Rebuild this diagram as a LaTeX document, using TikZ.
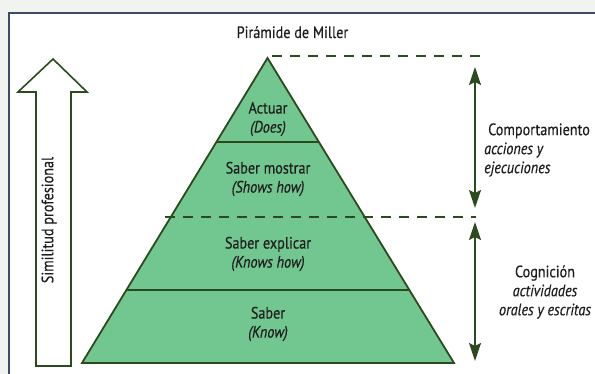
\documentclass[tikz,border=0pt]{standalone}
\usepackage{fontspec}
\setmainfont{PT Sans}[FakeStretch=0.86, FakeBold=0.4]
\usetikzlibrary{arrows.meta}
\definecolor{bgout}{HTML}{F1F3F0}
\definecolor{frame}{HTML}{3C4B66}
\definecolor{pyrfill}{HTML}{72C68F}
\definecolor{dkgreen}{HTML}{2C4A1E}
\definecolor{txt}{HTML}{1E1E1E}
\tikzset{
  lbl/.style={font=\fontsize{16.5}{19}\selectfont, text=txt, align=center, inner sep=0pt},
  pyrline/.style={draw=dkgreen, line width=1.8pt},
  dashline/.style={draw=dkgreen, line width=2pt, dash pattern=on 10pt off 8pt},
  dimarrow/.style={draw=dkgreen, line width=2pt, {Stealth[length=18pt,width=12pt,inset=3pt]}-{Stealth[length=18pt,width=12pt,inset=3pt]}},
}
\begin{document}
\begin{tikzpicture}[x=1pt,y=-1pt]
\useasboundingbox (0,0) rectangle (595,374);
\fill[bgout] (0,0) rectangle (595,374);
\fill[white] (9,13) rectangle (600,380);
\draw[frame, line width=2.2pt] (9,380) -- (9,13) -- (600,13);
% pyramid
\coordinate (apex) at (267.5,58);
\coordinate (bl) at (82,363);
\coordinate (br) at (454,363);
\fill[pyrfill] (apex) -- (bl) -- (br) -- cycle;
\coordinate (l1) at (216.3,142); \coordinate (r1) at (318.7,142);
\coordinate (l3) at (126,290); \coordinate (r3) at (409,290);
\draw[pyrline] (l1) -- (r1);
\draw[pyrline] (l3) -- (r3);
\draw[pyrline, line join=miter] (apex) -- (bl) -- (br) -- cycle;
% dashed lines
\coordinate (d1a) at (272,56); \coordinate (d1b) at (481,56);
\coordinate (d2a) at (165,217); \coordinate (d2b) at (476,217);
\draw[dashline] (d1a) -- (d1b);
\draw[dashline] (d2a) -- (d2b);
% dimension arrows
\coordinate (a1t) at (475,67); \coordinate (a1b) at (475,208);
\coordinate (a2t) at (475,222); \coordinate (a2b) at (475,361);
\draw[dimarrow] (a1b) -- (a1t);
\draw[dimarrow] (a2b) -- (a2t);
% hollow arrow
\draw[dkgreen, line width=1.6pt, fill=white, line join=miter]
  (36,366) -- (36,92) -- (18,92) -- (53,59) -- (87,92) -- (71,92) -- (71,366) -- cycle;
\node[lbl, rotate=90] (sim) at (49,220) {Similitud profesional};
% labels
\node[lbl, anchor=base] (title) at (292.5,38) {Pirámide de Miller};
\node[lbl] (actuar) at (268,119) {Actuar\\\textit{(Does)}};
\node[lbl] (mostrar) at (268,179) {Saber mostrar\\\textit{(Shows how)}};
\node[lbl] (explicar) at (268,254) {Saber explicar\\\textit{(Knows how)}};
\node[lbl] (saber) at (268,324) {Saber\\\textit{(Know)}};
\node[lbl, align=left, anchor=west] (comp) at (484,150) {\hspace*{4pt}Comportamiento\\\textit{acciones y}\\\textit{ejecuciones}};
\node[lbl] (cog) at (545,292) {Cognición\\\textit{actividades}\\\textit{orales y escritas}};
\end{tikzpicture}
\end{document}
